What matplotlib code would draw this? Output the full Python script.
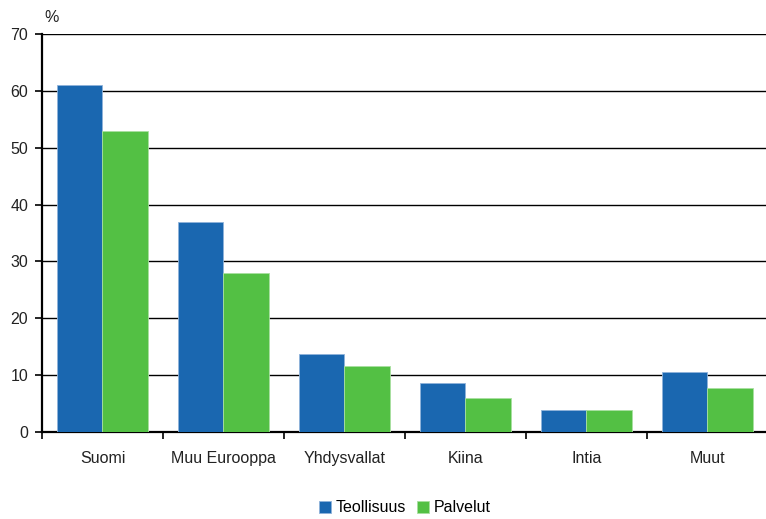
import matplotlib
matplotlib.use("Agg")
import matplotlib.pyplot as plt
import numpy as np

categories = ["Suomi", "Muu Eurooppa", "Yhdysvallat", "Kiina", "Intia", "Muut"]
teollisuus = [61, 37, 13.7, 8.6, 3.9, 10.5]
palvelut = [53, 28, 11.6, 6.0, 3.9, 7.7]
yticks = [0, 10, 20, 30, 40, 50, 60, 70]

plt.rcParams['font.family'] = ['Liberation Sans', 'DejaVu Sans']

W, H = 766, 519
fig = plt.figure(figsize=(W/100, H/100), dpi=100)
left, right, top, bottom = 42, 768, 34, 432
ax = fig.add_axes([left/W, 1-bottom/H, (right-left)/W, (bottom-top)/H])

x = np.arange(len(categories))
bw = 0.38
blue = "#1a67b0"
green = "#53c044"
ax.bar(x - bw/2, teollisuus, bw, color=blue, edgecolor="#8fb3da", linewidth=0.6, zorder=3, label="Teollisuus")
ax.bar(x + bw/2, palvelut, bw, color=green, edgecolor="#a9e0a0", linewidth=0.6, zorder=3, label="Palvelut")

fs = 11.5
ax.set_xlim(-0.5, len(categories) - 0.5)
ax.set_ylim(0, 70)
ax.set_yticks(yticks)
ax.set_yticklabels([str(v) for v in yticks], fontsize=fs, color="#222222")
ax.yaxis.grid(True, color="black", linewidth=1.0, zorder=0)
ax.set_axisbelow(True)

ax.set_xticks(np.arange(len(categories) + 1) - 0.5, minor=False)
ax.set_xticklabels([])
ax.set_xticks(x, minor=True)
ax.set_xticklabels(categories, minor=True, fontsize=fs, color="#222222")
ax.tick_params(axis='x', which='minor', length=0, pad=14)
ax.tick_params(axis='x', which='major', length=5, width=1.2, direction='out', color='black')
ax.tick_params(axis='y', length=5, width=1.2, color='black', pad=5)

for s in ["top", "right"]:
    ax.spines[s].set_visible(False)
ax.spines["left"].set_linewidth(1.6)
ax.spines["bottom"].set_linewidth(1.6)

fig.text(44/W, 1-17/H, "%", fontsize=fs, color="#222222", va="center", ha="left")

handles, labels = ax.get_legend_handles_labels()
leg = fig.legend(handles, labels, loc="center", bbox_to_anchor=(405/W, 1-508/H), ncol=2,
                 frameon=False, fontsize=fs, handlelength=0.75, handleheight=0.75,
                 handletextpad=0.3, columnspacing=0.7)

fig.savefig("out.png", dpi=100)
